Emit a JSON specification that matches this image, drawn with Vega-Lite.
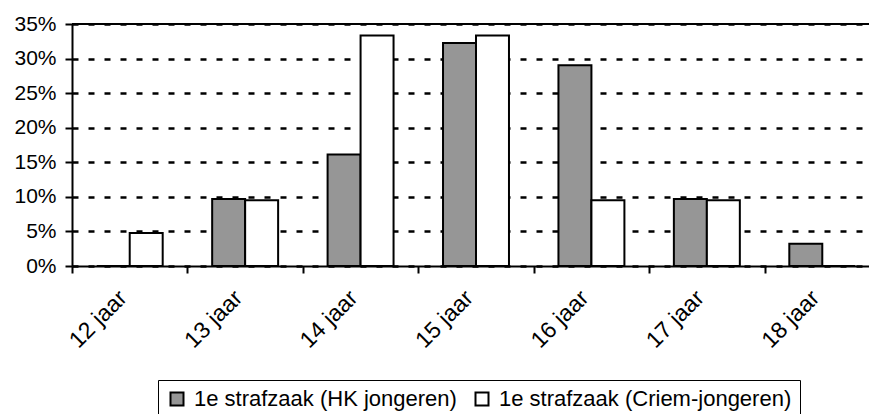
{
  "$schema": "https://vega.github.io/schema/vega-lite/v6.json",
  "autosize": {"type": "none"},
  "width": 797,
  "height": 242,
  "padding": {"left": 72, "top": 24, "right": 0, "bottom": 148},
  "background": "white",
  "config": {
    "view": {"stroke": null},
    "font": "Liberation Sans",
    "axis": {"labelFont": "Liberation Sans", "labelColor": "black", "domainColor": "black", "tickColor": "black", "domainWidth": 2, "tickWidth": 2, "tickSize": 7, "title": null},
    "legend": {"labelFont": "Liberation Sans", "labelColor": "black"}
  },
  "resolve": {"axis": {"y": "independent"}},
  "layer": [
    {
      "data": {"values": [
        {"age": "12 jaar", "series": "1e strafzaak (HK jongeren)", "share": 0.0},
        {"age": "12 jaar", "series": "1e strafzaak (Criem-jongeren)", "share": 0.0476},
        {"age": "13 jaar", "series": "1e strafzaak (HK jongeren)", "share": 0.0968},
        {"age": "13 jaar", "series": "1e strafzaak (Criem-jongeren)", "share": 0.0952},
        {"age": "14 jaar", "series": "1e strafzaak (HK jongeren)", "share": 0.1613},
        {"age": "14 jaar", "series": "1e strafzaak (Criem-jongeren)", "share": 0.3333},
        {"age": "15 jaar", "series": "1e strafzaak (HK jongeren)", "share": 0.3226},
        {"age": "15 jaar", "series": "1e strafzaak (Criem-jongeren)", "share": 0.3333},
        {"age": "16 jaar", "series": "1e strafzaak (HK jongeren)", "share": 0.2903},
        {"age": "16 jaar", "series": "1e strafzaak (Criem-jongeren)", "share": 0.0952},
        {"age": "17 jaar", "series": "1e strafzaak (HK jongeren)", "share": 0.0968},
        {"age": "17 jaar", "series": "1e strafzaak (Criem-jongeren)", "share": 0.0952},
        {"age": "18 jaar", "series": "1e strafzaak (HK jongeren)", "share": 0.0323},
        {"age": "18 jaar", "series": "1e strafzaak (Criem-jongeren)", "share": 0.0}
      ]},
      "mark": {"type": "bar", "stroke": "black", "strokeWidth": 2, "fillOpacity": 1},
      "encoding": {
        "x": {
          "field": "age", "type": "nominal",
          "scale": {"range": [0, 808], "paddingInner": 0, "paddingOuter": 0},
          "axis": {"labelAngle": -45, "labelFontSize": 23, "labelPadding": 21, "labelOffset": -7, "tickBand": "extent", "grid": false, "labelAlign": "right", "labelBaseline": "middle"}
        },
        "xOffset": {
          "field": "series", "type": "nominal",
          "sort": ["1e strafzaak (HK jongeren)", "1e strafzaak (Criem-jongeren)"],
          "scale": {"paddingInner": 0, "paddingOuter": 0.75}
        },
        "y": {
          "field": "share", "type": "quantitative",
          "scale": {"domain": [0, 0.35], "nice": false},
          "axis": {"format": ".0%", "values": [0, 0.05, 0.1, 0.15, 0.2, 0.25, 0.3, 0.35], "labelOverlap": false, "labelFontSize": 21, "labelPadding": 9, "grid": true, "gridColor": "black", "gridWidth": 2.7, "gridDash": [6, 10]}
        },
        "color": {
          "field": "series", "type": "nominal",
          "sort": ["1e strafzaak (HK jongeren)", "1e strafzaak (Criem-jongeren)"],
          "scale": {"domain": ["1e strafzaak (HK jongeren)", "1e strafzaak (Criem-jongeren)"], "range": ["#969696", "#ffffff"]},
          "legend": {
            "title": null, "orient": "none", "legendX": 86, "legendY": 356,
            "direction": "horizontal", "columns": 2, "labelLimit": 0,
            "labelFontSize": 22, "symbolType": "square", "symbolSize": 169,
            "symbolStrokeColor": "black", "symbolStrokeWidth": 2, "symbolOpacity": 1,
            "symbolOffset": 0, "labelOffset": 6, "columnPadding": 14,
            "padding": 8, "strokeColor": "black"
          }
        }
      }
    },
    {
      "data": {"values": [{"top": 0.35}]},
      "mark": {"type": "rule", "color": "black", "strokeWidth": 2},
      "encoding": {"y": {"field": "top", "type": "quantitative", "axis": null}}
    }
  ]
}
